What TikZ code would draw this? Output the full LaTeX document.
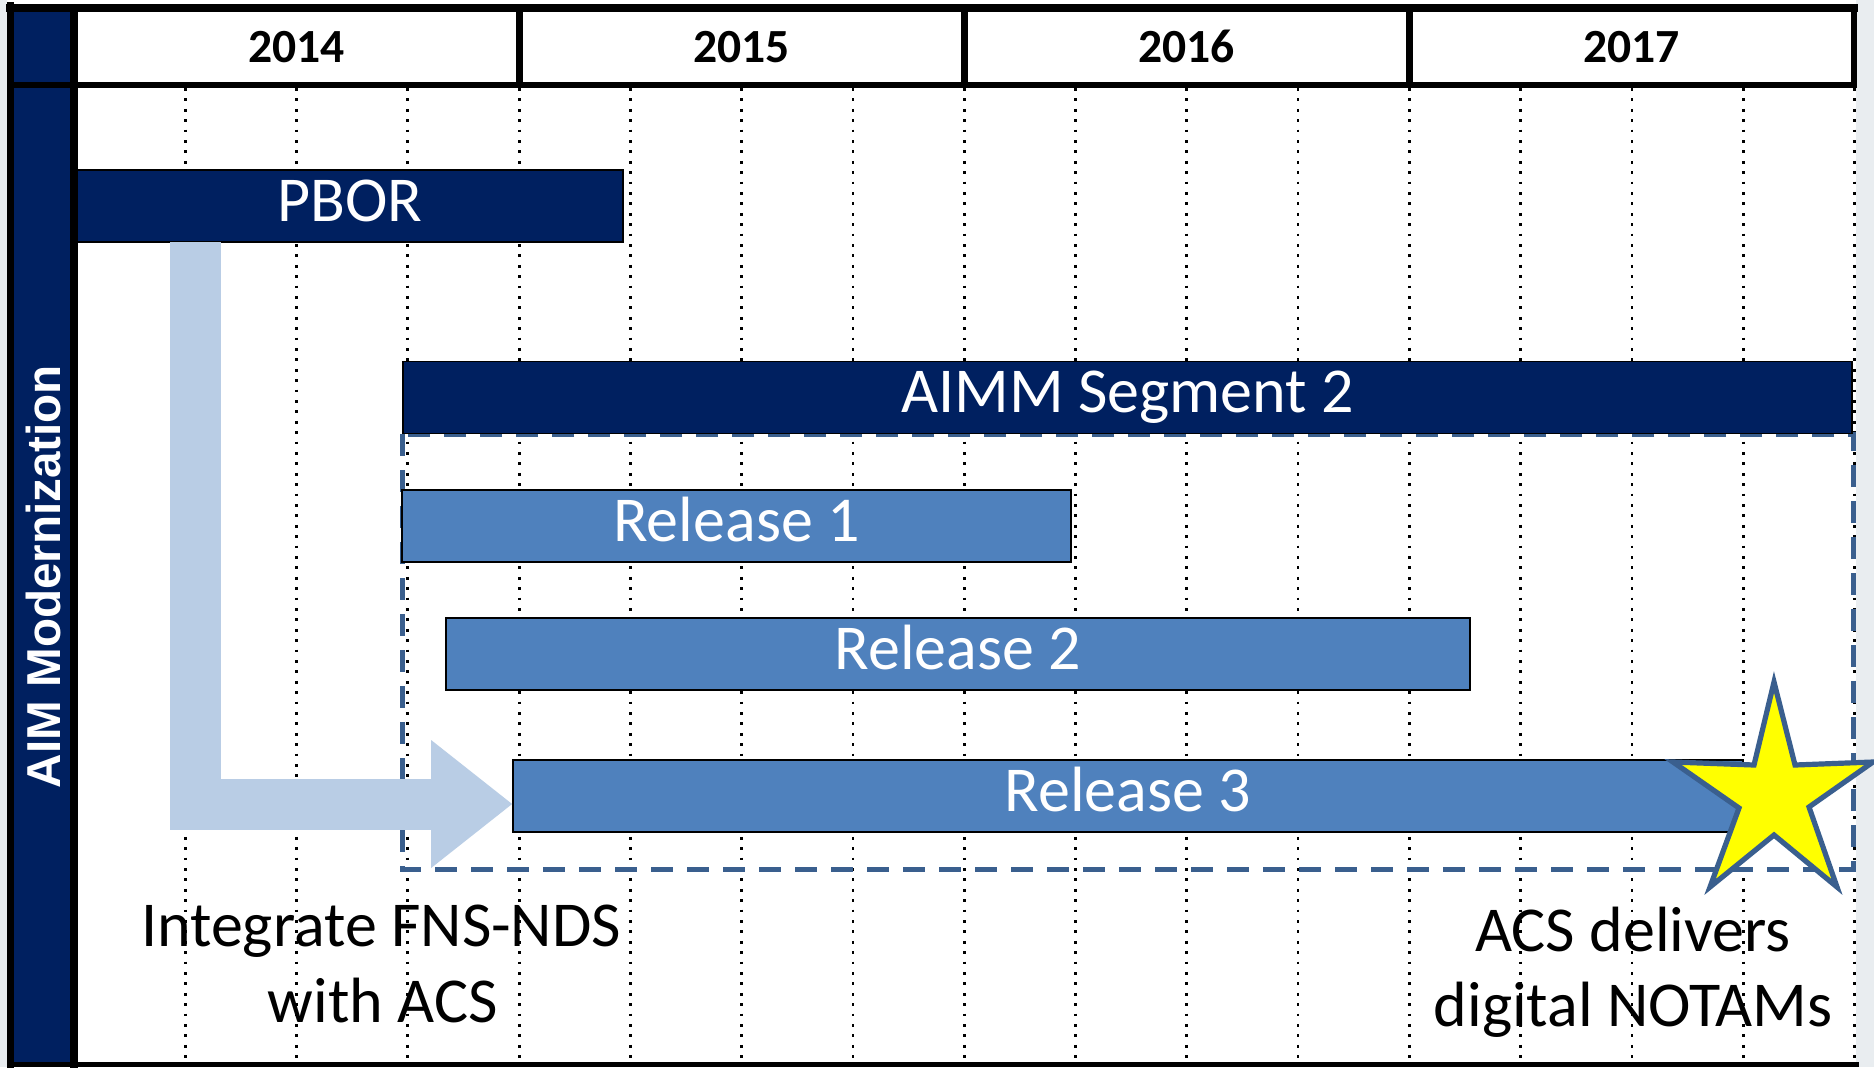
\documentclass[tikz,border=0pt]{standalone}
\usepackage{fontspec}
\setmainfont{Carlito}
\newfontfamily\arialfont{Liberation Sans}
\definecolor{navy}{HTML}{002060}
\definecolor{relblue}{HTML}{4F81BD}
\definecolor{arrowblue}{HTML}{B9CDE5}
\definecolor{dashblue}{HTML}{3A5F8E}
\definecolor{starfill}{HTML}{FFFF00}
\definecolor{photogray}{HTML}{E9EDF0}
\tikzset{
  bar/.style={draw=black, line width=0.9pt, minimum height=36pt, inner sep=0pt,
    text=white, font=\fontsize{32}{38}\selectfont, text height=20pt, text depth=5pt},
  navybar/.style={bar, fill=navy},
  relbar/.style={bar, fill=relblue},
  gridline/.style={line width=1.4pt, dash pattern=on 1.4pt off 3.8pt},
  frameline/.style={draw=black, line cap=rect},
  yearlabel/.style={anchor=base, inner sep=0pt, font=\bfseries\fontsize{23.8}{28}\selectfont},
  note/.style={anchor=base, inner sep=0pt, font=\fontsize{32}{38}\selectfont},
  dashbox/.style={draw=dashblue, line width=2.5pt, dash pattern=on 11pt off 7pt},
  blockarrow/.style={draw=arrowblue, line width=25.5pt, line join=miter},
  starshape/.style={fill=starfill, draw=dashblue, line width=2.6pt, line join=miter},
}
\begin{document}
\begin{tikzpicture}[x=0.5pt, y=-0.5pt]
\useasboundingbox (0,0) rectangle (1874,1067);
% background
\fill[photogray] (0,0) rectangle (1874,1067);
\fill[white] (7,0) rectangle (1856,1067);
% navy side column
\fill[navy] (10,8) rectangle (74,1065);
% quarter grid lines
\foreach \q in {1,...,16}
  \draw[gridline] ({74+111.28*\q},88) -- ({74+111.28*\q},1062);
% dashed release box
\draw[dashbox] (402,434) rectangle (1853,869);
% bars
\node[navybar, minimum width=273pt] (pbor) at (350,206) {PBOR};
\node[navybar, minimum width=724.5pt] (aimm) at (1127.5,397.5) {AIMM Segment 2};
\node[relbar, minimum width=334.5pt] (r1) at (736.5,526) {Release 1};
\node[relbar, minimum width=512pt] (r2) at (958,654) {Release 2};
\node[relbar, minimum width=615pt] (r3) at (1128,796) {Release 3};
% L-shaped block arrow from PBOR to Release 3
\coordinate (stemtop) at (195.5,242);
\coordinate (arrtip) at ([yshift=-4pt]r3.west);
\draw[blockarrow] (stemtop) |- ([xshift=-40pt]arrtip);
\fill[arrowblue] (arrtip) -- ++(-81,-64) -- ++(0,128) -- cycle;
% star
\draw[starshape] (1774,682) -- (1795,765) -- (1873,762) -- (1809,807) -- (1837,887)
  -- (1774,835) -- (1710,887) -- (1739,808) -- (1673,762) -- (1754,765) -- cycle;
% frame
\draw[frameline, line width=3.5pt] (10.5,5) -- (10.5,1066);
\draw[frameline, line width=4pt] (10,8) -- (1854,8);
\draw[frameline, line width=3pt] (10,84.5) -- (1854,84.5);
\draw[frameline, line width=4pt] (74,8) -- (74,1065);
\draw[frameline, line width=3.5pt] (519.1,8) -- (519.1,84.5);
\draw[frameline, line width=3.5pt] (964.2,8) -- (964.2,84.5);
\draw[frameline, line width=3.5pt] (1409.4,8) -- (1409.4,84.5);
\draw[frameline, line width=3pt] (1854,8) -- (1854,84.5);
\draw[frameline, line width=2.5pt] (10,1064.5) -- (1856,1064.5);
% year labels
\node[yearlabel] (y2014) at (296.5,62) {2014};
\node[yearlabel] (y2015) at (741.6,62) {2015};
\node[yearlabel] (y2016) at (1186.8,62) {2016};
\node[yearlabel] (y2017) at (1631.7,62) {2017};
% side title
\node[anchor=base, inner sep=0pt, rotate=90, text=white,
  font=\arialfont\bfseries\fontsize{23.8}{28}\selectfont] (aim) at (60,576.5) {AIM Modernization};
% notes
\node[note] (int1) at (381,946) {Integrate FNS-NDS};
\node[note] (int2) at (383,1022) {with ACS};
\node[note] (acs1) at (1633,951) {ACS delivers};
\node[note] (acs2) at (1633,1026) {digital NOTAMs};
\end{tikzpicture}
\end{document}
